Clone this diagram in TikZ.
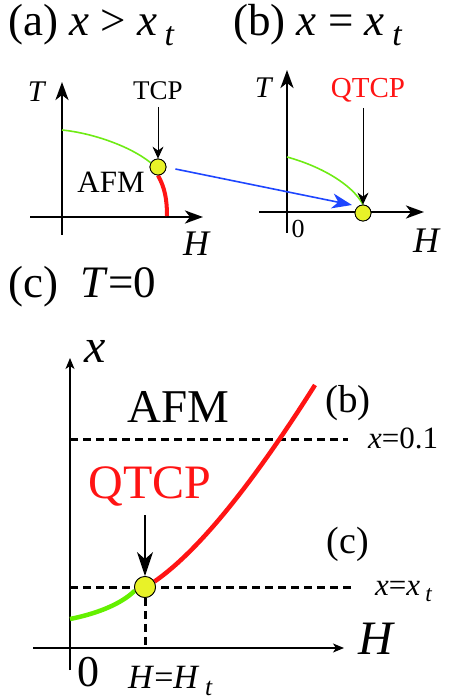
\documentclass[tikz,border=0pt]{standalone}
\usepackage{fontspec}
\setmainfont{Liberation Serif}
\usepackage{graphicx}
\usetikzlibrary{arrows.meta}
\definecolor{dotyellow}{RGB}{232,242,40}
\definecolor{lgreen}{RGB}{110,235,20}
\definecolor{bgreen}{RGB}{100,240,0}
\definecolor{pred}{RGB}{255,20,20}
\definecolor{pblue}{RGB}{30,70,255}
\newcommand{\tsub}[1]{\,\raisebox{-0.22em}{\scalebox{0.75}{\textit{#1}}}}
\newcommand{\sz}[2]{\scalebox{#1}{#2}}
\tikzset{
  lbl/.style={inner sep=0pt, anchor=base, font=\fontsize{20}{20}\selectfont},
  dotnode/.style={circle, draw=black, line width=0.8pt, fill=dotyellow, minimum size=#1, inner sep=0pt},
  bigaxis/.style={line width=2.6pt, -{Stealth[length=18pt,width=13pt,inset=5pt]}},
  thinaxis/.style={line width=1.3pt, -{Stealth[length=11pt,width=9pt,inset=3pt]}},
  smallarrow/.style={line width=1pt, -{Stealth[length=12pt,width=11pt,inset=4pt]}},
  midarrow/.style={line width=2pt, -{Stealth[length=24pt,width=16pt,inset=7pt]}},
  dashline/.style={line width=3pt, dash pattern=on 8pt off 5pt},
}
\begin{document}
\begin{tikzpicture}[x=1pt,y=-1pt]
\useasboundingbox (0,0) rectangle (462,700);

% ---------- panel (a) ----------
\node[lbl, anchor=base west] (ta) at (8,36) {\sz{2.25}{(a) \textit{x} > \textit{x}\tsub{t}}};
\coordinate (aT0) at (62,235);
\coordinate (aT1) at (62,82);
\coordinate (aH0) at (30,217);
\coordinate (aH1) at (203,217);
\draw[bigaxis] (aT0) -- (aT1);
\draw[bigaxis] (aH0) -- (aH1);
\node[lbl] (aTl) at (37,102) {\sz{1.5}{\textit{T}}};
\node[lbl] (aHl) at (197,255) {\sz{1.8}{\textit{H}}};
\node[lbl] (tcpl) at (158,100) {\sz{1.35}{TCP}};
\node[lbl] (afma) at (111,193) {\sz{1.55}{AFM}};
\coordinate (ag0) at (62,130);
\node[dotnode=16pt] (tcp) at (158,167) {};
\draw[lgreen, line width=1.6pt] (ag0) .. controls (92,133) and (130,146) .. (tcp.150);
\coordinate (ar1) at (167,216);
\draw[pred, line width=4pt] (tcp.south) .. controls (165,188) and (167,200) .. (ar1);
\node[dotnode=16pt] at (tcp) {};
\coordinate (tcpa) at (158,107);
\draw[smallarrow] (tcpa) -- (tcp.north);

% ---------- panel (b) ----------
\node[lbl, anchor=base west] (tb) at (233,36) {\sz{2.25}{(b) \textit{x} = \textit{x}\tsub{t}}};
\coordinate (bT0) at (287,233);
\coordinate (bT1) at (287,70);
\coordinate (bH0) at (259,212);
\coordinate (bH1) at (424,212);
\draw[bigaxis] (bT0) -- (bT1);
\draw[bigaxis] (bH0) -- (bH1);
\node[lbl] (bTl) at (264,98) {\sz{1.5}{\textit{T}}};
\node[lbl] (bHl) at (427,252) {\sz{1.8}{\textit{H}}};
\node[lbl] (b0) at (298,238) {\sz{1.3}{0}};
\node[lbl, text=pred] (qtcpl) at (368,98) {\sz{1.45}{QTCP}};
\node[dotnode=16pt] (qtcp) at (363,213) {};
\coordinate (bg0) at (287,157);
\draw[lgreen, line width=1.6pt] (bg0) .. controls (320,166) and (352,184) .. (qtcp.north);
\node[dotnode=16pt] at (qtcp) {};
\coordinate (qa) at (363,108);
\draw[smallarrow] (qa) -- (qtcp.north);
\draw[pblue, line width=1.6pt, -{Stealth[length=20pt,width=15pt,inset=6pt]}] (tcp.east) ++(9,2) -- (352,205);

% ---------- panel (c) ----------
\node[lbl, anchor=base west] (tc) at (8,297) {\sz{2.25}{(c)\ \ \textit{T}=0}};
\coordinate (cx0) at (70,670);
\coordinate (cx1) at (70,358);
\coordinate (cH0) at (33,648);
\coordinate (cH1) at (344,648);
\draw[thinaxis] (cx0) -- (cx1);
\draw[thinaxis] (cH0) -- (cH1);
\node[lbl] (cxl) at (95,362) {\sz{2.4}{\textit{x}}};
\node[lbl] (cHl) at (377,654) {\sz{2.4}{\textit{H}}};
\node[lbl] (c0) at (88,686) {\sz{2.2}{0}};
\node[lbl, anchor=base west] (cHt) at (128,688) {\sz{1.7}{\textit{H}=\textit{H}\tsub{t}}};
\node[lbl] (cafm) at (178,422) {\sz{2.35}{AFM}};
\node[lbl] (cb) at (348,412) {\sz{1.95}{(b)}};
\node[lbl, anchor=base west] (cx01) at (368,448) {\sz{1.55}{\textit{x}=0.1}};
\node[lbl, text=pred] (cqtcp) at (150,498) {\sz{2.4}{QTCP}};
\node[lbl] (cc) at (348,553) {\sz{1.9}{(c)}};
\node[lbl, anchor=base west] (cxxt) at (375,595) {\sz{1.55}{\textit{x}=\textit{x}\tsub{t}}};
\coordinate (d1a) at (70,439);
\coordinate (d1b) at (348,439);
\draw[dashline] (d1a) -- (d1b);
\coordinate (d2a) at (70,587);
\coordinate (d2b) at (355,587);
\draw[dashline] (d2a) -- (d2b);
\node[dotnode=21pt] (cq) at (145,587) {};
\coordinate (d3) at (145,648);
\draw[dashline] (cq.south) -- (d3);
\coordinate (cg0) at (70,619);
\draw[bgreen, line width=4.5pt] (cg0) .. controls (95,614) and (120,605) .. (cq.200);
\coordinate (cr1) at (315,385);
\draw[pred, line width=4.5pt] (cq.30) .. controls (200,550) and (255,480) .. (cr1);
\node[dotnode=21pt] at (cq) {};
\coordinate (cqa) at (145,515);
\draw[midarrow] (cqa) -- (cq.north);
\end{tikzpicture}
\end{document}
